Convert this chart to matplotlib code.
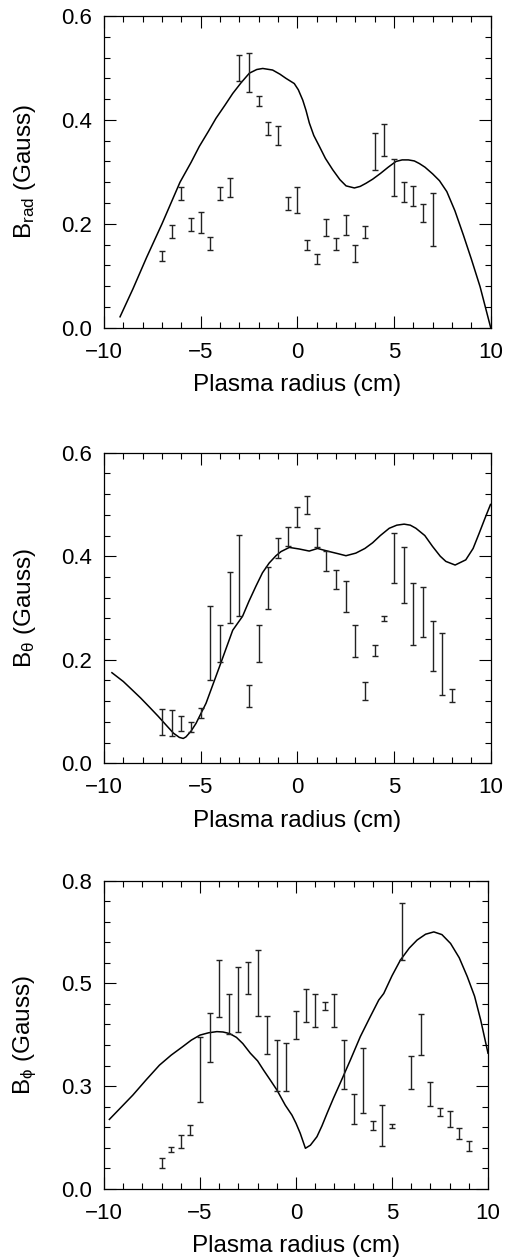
import matplotlib
matplotlib.use("Agg")
import matplotlib.pyplot as plt
from matplotlib.ticker import MultipleLocator, FixedLocator, FixedFormatter

plt.rcParams['font.family'] = ['Liberation Sans', 'DejaVu Sans']
plt.rcParams['mathtext.fontset'] = 'custom'
plt.rcParams['mathtext.rm'] = 'Liberation Sans'
plt.rcParams['mathtext.it'] = 'Liberation Sans'

# ---------------- data ----------------
# Panel 1: B_rad
rad_x = [-7, -6.5, -6, -5.5, -5, -4.5, -4, -3.5, -3, -2.5, -2, -1.5, -1, -0.5, 0,
         0.5, 1, 1.5, 2, 2.5, 3, 3.5, 4, 4.5, 5, 5.5, 6, 6.5, 7]
rad_y = [0.138, 0.185, 0.258, 0.199, 0.202, 0.162, 0.258, 0.270, 0.500, 0.491, 0.436,
         0.383, 0.370, 0.239, 0.245, 0.159, 0.132, 0.193, 0.161, 0.197, 0.143, 0.184,
         0.339, 0.362, 0.289, 0.261, 0.253, 0.221, 0.208]
rad_err = [0.010, 0.012, 0.012, 0.013, 0.020, 0.013, 0.012, 0.019, 0.025, 0.037, 0.010,
           0.013, 0.019, 0.013, 0.025, 0.010, 0.010, 0.017, 0.012, 0.019, 0.016, 0.012,
           0.035, 0.031, 0.035, 0.019, 0.019, 0.017, 0.051]
rad_cx = [-9.17, -8.5, -7.8, -7.0, -6.07, -5.5, -5.07, -4.6, -4.21, -3.75, -3.34,
          -2.9, -2.48, -2.1, -1.79, -1.28, -0.9, -0.59, -0.16, 0.05, 0.28, 0.45, 0.62,
          0.85, 1.14, 1.45, 1.83, 2.2, 2.52, 2.95, 3.25, 3.55, 3.9, 4.3, 4.7, 5.1,
          5.42, 5.74, 6.05, 6.31, 6.6, 7.0, 7.35, 7.73, 8.15, 8.59, 9.0, 9.45, 10.0]
rad_cy = [0.021, 0.075, 0.135, 0.200, 0.280, 0.318, 0.349, 0.378, 0.403, 0.428, 0.451,
          0.472, 0.490, 0.497, 0.499, 0.496, 0.488, 0.480, 0.470, 0.458, 0.438, 0.418,
          0.394, 0.370, 0.349, 0.326, 0.304, 0.285, 0.273, 0.269, 0.272, 0.278, 0.286,
          0.297, 0.309, 0.320, 0.323, 0.323, 0.321, 0.316, 0.309, 0.296, 0.283, 0.262,
          0.225, 0.178, 0.132, 0.079, 0.0]

# Panel 2: B_theta
th_x = [-7, -6.5, -6, -5.5, -5, -4.5, -4, -3.5, -3, -2.5, -2, -1.5, -1, -0.5, 0,
        0.5, 1, 1.5, 2, 2.5, 3, 3.5, 4, 4.5, 5, 5.5, 6, 6.5, 7, 7.5, 8]
th_y = [0.079, 0.078, 0.077, 0.070, 0.097, 0.232, 0.232, 0.320, 0.363, 0.130, 0.232,
        0.339, 0.416, 0.438, 0.476, 0.499, 0.436, 0.391, 0.355, 0.323, 0.236, 0.140,
        0.218, 0.279, 0.396, 0.364, 0.288, 0.292, 0.227, 0.191, 0.131]
th_err = [0.025, 0.025, 0.015, 0.010, 0.009, 0.072, 0.036, 0.049, 0.078, 0.021, 0.036,
          0.041, 0.019, 0.019, 0.019, 0.018, 0.019, 0.019, 0.018, 0.030, 0.031, 0.018,
          0.010, 0.005, 0.048, 0.054, 0.060, 0.048, 0.048, 0.060, 0.012]
th_cx = [-9.59, -9.0, -8.52, -8.1, -7.66, -7.2, -6.79, -6.4, -6.10, -5.9, -5.76,
         -5.5, -5.24, -4.72, -4.03, -3.34, -2.83, -2.5, -2.14, -1.8, -1.45, -1.1,
         -0.84, -0.41, 0.10, 0.62, 1.05, 1.66, 2.1, 2.52, 3.03, 3.5, 3.90, 4.3, 4.76,
         5.15, 5.53, 5.85, 6.14, 6.6, 7.00, 7.4, 7.69, 8.17, 8.72, 9.1, 9.41, 9.7, 10.0]
th_cy = [0.175, 0.158, 0.141, 0.126, 0.109, 0.091, 0.074, 0.058, 0.050, 0.048, 0.051,
         0.062, 0.077, 0.116, 0.186, 0.257, 0.284, 0.313, 0.342, 0.368, 0.387, 0.401,
         0.409, 0.417, 0.414, 0.410, 0.415, 0.409, 0.405, 0.401, 0.406, 0.415, 0.426,
         0.440, 0.454, 0.460, 0.462, 0.460, 0.454, 0.440, 0.419, 0.400, 0.390, 0.383,
         0.393, 0.415, 0.444, 0.472, 0.500]

# Panel 3: B_phi
ph_x = [-7, -6.5, -6, -5.5, -5, -4.5, -4, -3.5, -3, -2.5, -2, -1.5, -1, -0.5, 0,
        0.5, 1, 1.5, 2, 2.5, 3, 3.5, 4, 4.5, 5, 5.5, 6, 6.5, 7, 7.5, 8, 8.5, 9]
ph_y = [0.068, 0.102, 0.123, 0.152, 0.309, 0.393, 0.520, 0.454, 0.491, 0.548, 0.534,
        0.400, 0.320, 0.316, 0.425, 0.475, 0.464, 0.474, 0.464, 0.322, 0.207, 0.281,
        0.164, 0.164, 0.163, 0.668, 0.302, 0.400, 0.246, 0.200, 0.182, 0.143, 0.111]
ph_err = [0.013, 0.007, 0.016, 0.013, 0.084, 0.064, 0.074, 0.052, 0.085, 0.042, 0.085,
          0.049, 0.066, 0.063, 0.037, 0.043, 0.043, 0.010, 0.043, 0.064, 0.038, 0.084,
          0.012, 0.053, 0.005, 0.074, 0.043, 0.053, 0.031, 0.010, 0.021, 0.015, 0.013]
ph_cx = [-9.72, -9.1, -8.50, -7.8, -7.11, -6.5, -5.90, -5.45, -5.00, -4.55, -4.12,
         -3.8, -3.46, -3.1, -2.77, -2.38, -2.0, -1.69, -1.35, -0.99, -0.56, -0.21,
         0.0, 0.22, 0.49, 0.75, 1.09, 1.35, 1.62, 1.95, 2.30, 2.83, 3.35, 3.85, 4.31,
         4.57, 5.0, 5.44, 5.9, 6.31, 6.75, 7.18, 7.6, 8.05, 8.5, 8.92, 9.3, 9.62, 10.0]
ph_cy = [0.180, 0.212, 0.243, 0.283, 0.321, 0.347, 0.369, 0.386, 0.399, 0.405, 0.408,
         0.407, 0.403, 0.393, 0.377, 0.352, 0.332, 0.308, 0.283, 0.256, 0.217, 0.191,
         0.170, 0.144, 0.105, 0.113, 0.135, 0.163, 0.196, 0.235, 0.274, 0.334, 0.395,
         0.445, 0.490, 0.507, 0.553, 0.594, 0.625, 0.646, 0.661, 0.667, 0.660, 0.637,
         0.600, 0.551, 0.500, 0.438, 0.352]

x_ticks = [-10, -5, 0, 5, 10]
x_ticklabels = ['\u221210', '\u22125', '0', '5', '10']
ph_yticks = [0.0, 0.8 / 3, 1.6 / 3, 0.8]
ph_yticklabels = ['0.0', '0.3', '0.5', '0.8']

# ---------------- figure ----------------
W, H = 507, 1260
fig = plt.figure(figsize=(W / 100, H / 100), dpi=100)


def make_ax(left, right, top, bottom):
    return fig.add_axes([left / W, 1 - bottom / H, (right - left) / W, (bottom - top) / H])


ax1 = make_ax(104, 490.7, 16, 327.7)
ax2 = make_ax(104, 490.5, 452.7, 763.3)
ax3 = make_ax(104, 488.0, 880.7, 1188.7)

panels = [
    (ax1, rad_x, rad_y, rad_err, rad_cx, rad_cy, r'B$_{\mathrm{rad}}$ (Gauss)', 0.6),
    (ax2, th_x, th_y, th_err, th_cx, th_cy, r'B$_{\mathrm{\theta}}$ (Gauss)', 0.6),
    (ax3, ph_x, ph_y, ph_err, ph_cx, ph_cy, r'B$_{\mathrm{\phi}}$ (Gauss)', 0.8),
]

for ax, xs, ys, es, cx, cy, lab, ymax in panels:
    ax.plot(cx, cy, color='black', lw=1.1, solid_joinstyle='round')
    ax.errorbar(xs, ys, yerr=es, fmt='none', ecolor='#222222', elinewidth=1.0,
                capsize=2.3, capthick=1.0)
    ax.set_xlim(-10, 10)
    ax.set_ylim(0, ymax)
    ax.xaxis.set_major_locator(FixedLocator(x_ticks))
    ax.xaxis.set_major_formatter(FixedFormatter(x_ticklabels))
    ax.xaxis.set_minor_locator(MultipleLocator(1))
    if ymax == 0.6:
        ax.yaxis.set_major_locator(MultipleLocator(0.2))
        ax.yaxis.set_minor_locator(MultipleLocator(0.04))
        ax.yaxis.set_major_formatter(plt.FuncFormatter(lambda v, p: f'{v:.1f}'))
    else:
        ax.yaxis.set_major_locator(FixedLocator(ph_yticks))
        ax.yaxis.set_major_formatter(FixedFormatter(ph_yticklabels))
        ax.yaxis.set_minor_locator(MultipleLocator(0.8 / 15))
    ax.tick_params(which='both', direction='in', top=True, right=True,
                   labelsize=16, width=0.8, color='black')
    ax.tick_params(which='major', length=8.5)
    ax.tick_params(which='minor', length=4.3)
    ax.tick_params(axis='x', pad=10)
    ax.tick_params(axis='y', pad=9)
    for s in ax.spines.values():
        s.set_linewidth(0.9)
    ax.set_xlabel('Plasma radius (cm)', fontsize=17.5)
    ax.set_ylabel(lab, fontsize=17.5)
    ax.xaxis.set_label_coords(0.5, -0.15)
    ax.yaxis.set_label_coords(-0.17, 0.5)

fig.savefig('out.png', dpi=100)
